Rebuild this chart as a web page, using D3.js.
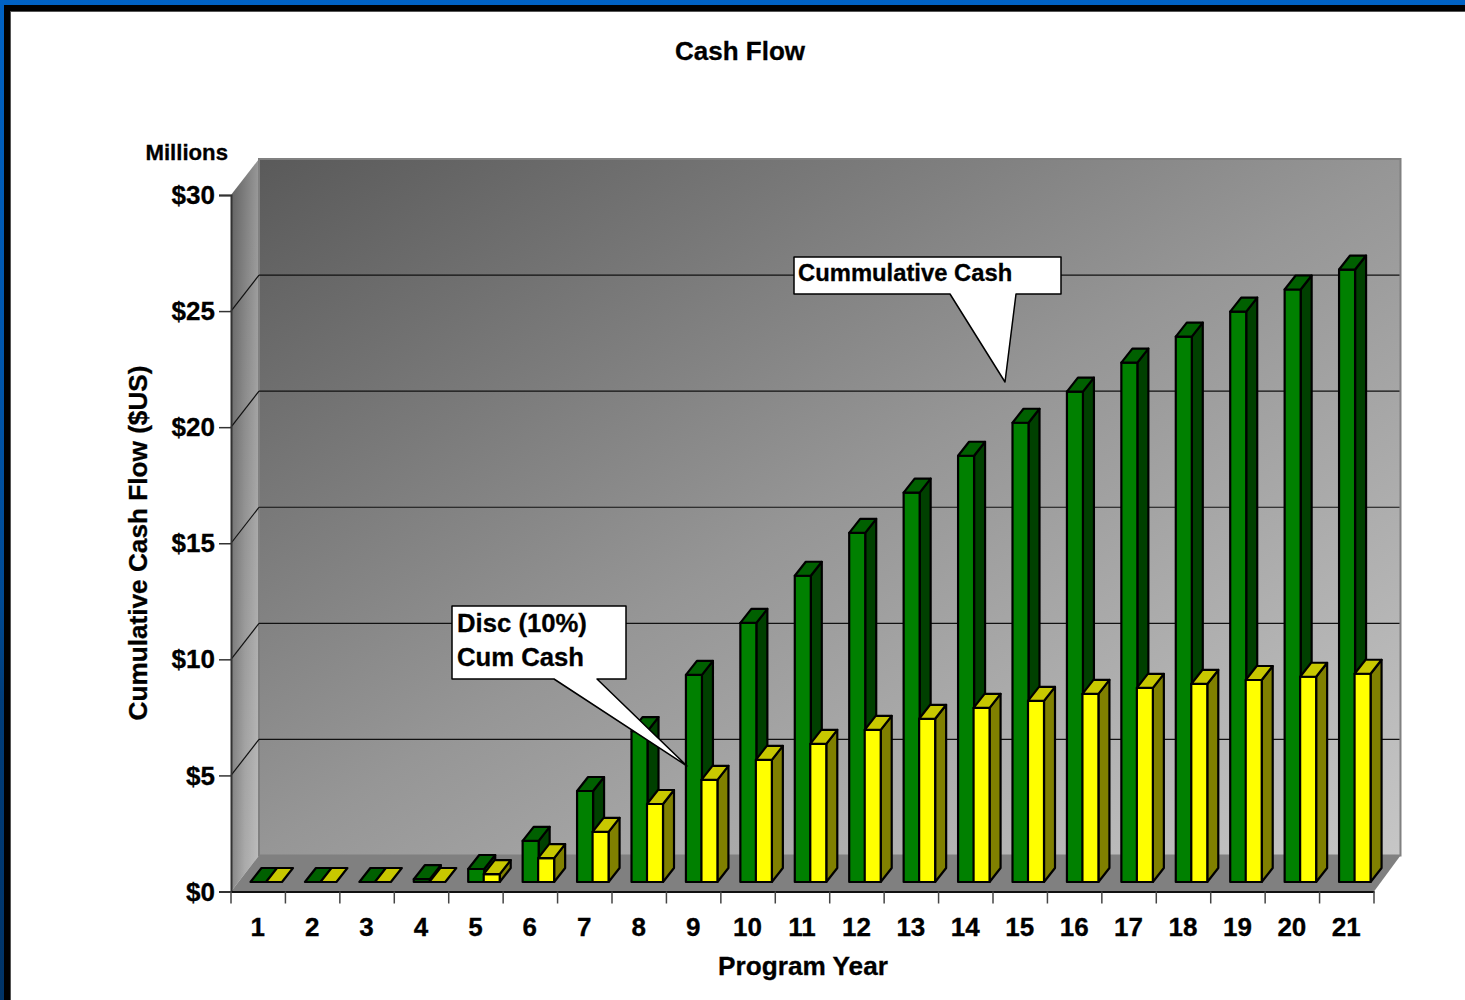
<!DOCTYPE html>
<html>
<head>
<meta charset="utf-8">
<script src="https://cdn.jsdelivr.net/npm/d3@7"></script>
<style>
    html, body { margin: 0; padding: 0; background: #fff; overflow: hidden; }
    text { font-family: "Liberation Sans", Arial, sans-serif; font-weight: bold; fill: #000; stroke: #000; stroke-width: 0.3px; }
</style>
</head>
<body>
<div id="chart"></div>
<script>

// Data ($ millions)
const years = d3.range(1, 22).map(String);
const cumCash = [0, 0, 0, 0.12, 0.56, 1.77, 3.92, 6.5, 8.92, 11.16, 13.19, 15.04, 16.77, 18.36, 19.78, 21.12, 22.37, 23.49, 24.57, 25.52, 26.38];
const discCash = [0, 0, 0, 0, 0.34, 1.03, 2.16, 3.36, 4.4, 5.26, 5.95, 6.55, 7.03, 7.5, 7.8, 8.1, 8.36, 8.53, 8.7, 8.84, 8.97];
const yTicks = [0, 5, 10, 15, 20, 25, 30];

const width = 1465, height = 1000;

// front plane of the chart box
const left = 231, right = 1374, top_ = 195, bottom = 891.5;
// how far the back wall is pushed from the front plane
const depth = {x: 28, y: -36};
const wallRight = 1400.5;
// bars sit part way into the box
const barOff = {x: 7.5, y: -9.5};
const barDepth = {x: 11, y: -14};
const barW = 16;

const svg = d3.select("#chart").append("svg")
    .attr("width", width)
    .attr("height", height);

const x = d3.scaleBand().domain(years).range([left, right]);
const y = d3.scaleLinear().domain([0, 30]).range([bottom, top_]);

const defs = svg.append("defs");

function gradient(id, x1, y1, x2, y2, stops) {
    const g = defs.append("linearGradient")
        .attr("id", id)
        .attr("gradientUnits", "userSpaceOnUse")
        .attr("x1", x1).attr("y1", y1)
        .attr("x2", x2).attr("y2", y2);
    stops.forEach(s => {
        g.append("stop")
            .attr("offset", s[0])
            .attr("stop-color", s[1])
            .attr("stop-opacity", s[2] === undefined ? 1 : s[2]);
    });
}
gradient("backWall", 259, 159, 873, 1173, [[0, "#5a5a5a"], [0.5, "#969696"], [1, "#c6c6c6"]]);
gradient("sideBase", 0, 159, 0, 891, [[0, "#7c7c7c"], [1, "#acacac"]]);
gradient("sideShade", 231, 0, 259, 0, [[0, "#000", 0.22], [0.5, "#000", 0], [0.5, "#fff", 0], [1, "#fff", 0.22]]);
gradient("frame", 0, 0, 0, 1000, [[0, "#0062c4"], [0.35, "#0056ac"], [0.6, "#004a94"], [0.7, "#003d7a"], [1, "#003366"]]);

// page frame
svg.append("rect").attr("width", width).attr("height", height).attr("fill", "url(#frame)");
svg.append("rect").attr("x", 4).attr("y", 5).attr("width", width).attr("height", height).attr("fill", "#000");
svg.append("rect").attr("x", 10.5).attr("y", 11.5).attr("width", width).attr("height", height)
    .attr("fill", "#fff")
    .attr("stroke", "#555")
    .attr("stroke-width", 1);

const poly = pts => pts.map(p => p.join(",")).join(" ");

// walls and floor
const box = svg.append("g");
const sidePts = poly([[left, bottom], [left + depth.x, bottom + depth.y], [left + depth.x, top_ + depth.y], [left, top_]]);
box.append("polygon").attr("points", sidePts).attr("fill", "url(#sideBase)");
box.append("polygon").attr("points", sidePts).attr("fill", "url(#sideShade)");
box.append("polygon")
    .attr("points", poly([[left + depth.x, bottom + depth.y], [wallRight, bottom + depth.y], [wallRight, top_ + depth.y], [left + depth.x, top_ + depth.y]]))
    .attr("fill", "url(#backWall)")
    .attr("stroke", "#808080")
    .attr("stroke-width", 2);
box.append("polygon")
    .attr("points", poly([[left, bottom], [right, bottom], [wallRight, bottom + depth.y], [left + depth.x, bottom + depth.y]]))
    .attr("fill", "#808080");

// gridlines, back wall and the slant on the side wall
box.selectAll("line.grid")
    .data(yTicks.slice(1, -1))
    .enter()
    .append("line")
    .attr("class", "grid")
    .attr("x1", left + depth.x)
    .attr("x2", wallRight - 1)
    .attr("y1", d => y(d) + depth.y)
    .attr("y2", d => y(d) + depth.y)
    .attr("stroke", "#111")
    .attr("stroke-width", 1.2);
box.selectAll("line.slant")
    .data(yTicks.slice(1, -1))
    .enter()
    .append("line")
    .attr("class", "slant")
    .attr("x1", left)
    .attr("x2", left + depth.x)
    .attr("y1", d => y(d))
    .attr("y2", d => y(d) + depth.y)
    .attr("stroke", "#111")
    .attr("stroke-width", 1.2);

// axes
const yAxis = d3.axisLeft(y)
    .tickValues(yTicks)
    .tickFormat(d => "$" + d)
    .tickSize(12)
    .tickPadding(4);
const xAxis = d3.axisBottom(x)
    .tickSize(0)
    .tickPadding(26);

const yG = svg.append("g").attr("transform", "translate(" + left + ",0)").call(yAxis);
const xG = svg.append("g").attr("transform", "translate(0," + bottom + ")").call(xAxis);
yG.select(".domain").attr("stroke", "#333").attr("stroke-width", 2);
yG.selectAll(".tick line").attr("stroke", "#333").attr("stroke-width", 1.5);
xG.select(".domain").attr("stroke", "#111").attr("stroke-width", 2);
xG.selectAll("text").attr("font-size", 26).attr("font-family", null).attr("dx", -0.5);
yG.selectAll("text").attr("font-size", 26).attr("font-family", null).attr("dy", "0.33em");

// x ticks fall between the bands
xG.selectAll("line.band-tick")
    .data(d3.range(0, years.length + 1))
    .enter()
    .append("line")
    .attr("class", "band-tick")
    .attr("x1", i => left + i * x.step())
    .attr("x2", i => left + i * x.step())
    .attr("y1", 0)
    .attr("y2", 12)
    .attr("stroke", "#444")
    .attr("stroke-width", 1.5);

// one 3d bar: side, top, front
function drawBar(g, bx, value, colors) {
    const base = y(0) + barOff.y;
    const ty = y(value) + barOff.y;
    const px = bx + barOff.x;
    if (value > 0) {
        g.append("polygon")
            .attr("points", poly([[px + barW, base], [px + barW + barDepth.x, base + barDepth.y], [px + barW + barDepth.x, ty + barDepth.y], [px + barW, ty]]))
            .attr("fill", colors.side);
        g.append("rect")
            .attr("x", px).attr("y", ty)
            .attr("width", barW).attr("height", base - ty)
            .attr("fill", colors.front);
    }
    g.append("polygon")
        .attr("points", poly([[px, ty], [px + barDepth.x, ty + barDepth.y], [px + barW + barDepth.x, ty + barDepth.y], [px + barW, ty]]))
        .attr("fill", colors.top);
}

const green = {front: "#008000", side: "#004000", top: "#006000"};
const yellow = {front: "#ffff00", side: "#808000", top: "#c8c800"};

const bars = svg.append("g")
    .attr("stroke", "#000")
    .attr("stroke-width", 2.2)
    .attr("stroke-linejoin", "round");

years.forEach((yr, i) => {
    const g = bars.append("g").attr("class", "year");
    drawBar(g, x(yr) + 12, cumCash[i], green);
    drawBar(g, x(yr) + 12 + barW - 0.5, discCash[i], yellow);
});

// callouts
function callout(pts, lines, tx, ty, size) {
    const g = svg.append("g");
    g.append("path")
        .attr("d", d3.line()(pts) + "Z")
        .attr("fill", "#fff")
        .attr("stroke", "#000")
        .attr("stroke-width", 1.5)
        .attr("stroke-linejoin", "round");
    g.selectAll("text")
        .data(lines)
        .enter()
        .append("text")
        .attr("x", tx)
        .attr("y", (d, i) => ty + i * 34)
        .attr("font-size", size)
        .text(d => d);
}

callout([[794, 257], [1061, 257], [1061, 294], [1016, 294], [1005, 382], [950, 294], [794, 294]],
    ["Cummulative Cash"], 798, 281, 23.8);
callout([[452, 606], [626, 606], [626, 679], [597, 679], [687, 766], [554, 679], [452, 679]],
    ["Disc (10%)", "Cum Cash"], 457, 632, 25.7);

// titles
svg.append("text")
    .attr("x", 740).attr("y", 60)
    .attr("text-anchor", "middle")
    .attr("font-size", 26)
    .text("Cash Flow");
svg.append("text")
    .attr("x", 228).attr("y", 160)
    .attr("text-anchor", "end")
    .attr("font-size", 22.2)
    .text("Millions");
svg.append("text")
    .attr("x", 803).attr("y", 975)
    .attr("text-anchor", "middle")
    .attr("font-size", 26.2)
    .text("Program Year");
svg.append("text")
    .attr("transform", "translate(147,543) rotate(-90)")
    .attr("text-anchor", "middle")
    .attr("font-size", 26.2)
    .text("Cumulative Cash Flow ($US)");

</script>
</body>
</html>
